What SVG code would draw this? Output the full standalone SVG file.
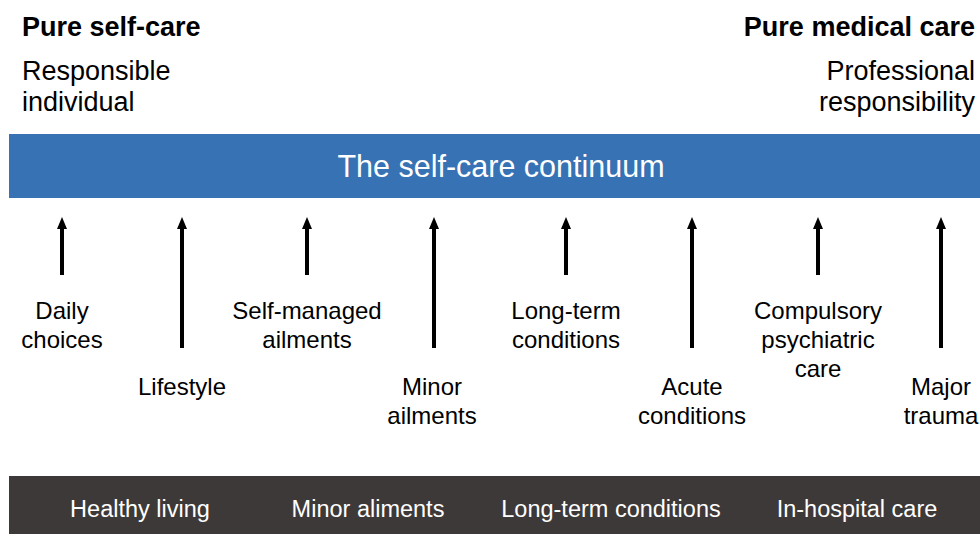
<svg xmlns="http://www.w3.org/2000/svg" width="980" height="534" viewBox="0 0 980 534">
<style>
text{font-family:"Liberation Sans",Arial,sans-serif;fill:#000}
.h{font-weight:bold;font-size:27px}
.s{font-size:27px}
.l{font-size:24px;text-anchor:middle}
.b{font-size:23.5px;text-anchor:middle;fill:#fff}
.w{fill:#fff}
.ar{stroke:#000;stroke-width:4;fill:none}
</style>
<defs>
<marker id="ah" viewBox="0 0 12 10" refX="0" refY="5" markerWidth="12" markerHeight="10" markerUnits="userSpaceOnUse" orient="auto">
<path d="M0,0 L12,5 L0,10 Z" fill="#000"/>
</marker>
</defs>
<rect width="980" height="534" fill="#fff"/>
<g id="header-left">
<text class="h" x="22" y="36">Pure self-care</text>
<text class="s" x="22" y="80">Responsible</text>
<text class="s" x="22" y="111">individual</text>
</g>
<g id="header-right">
<text class="h" x="975" y="36" text-anchor="end">Pure medical care</text>
<text class="s" x="975" y="80" text-anchor="end">Professional</text>
<text class="s" x="975" y="111" text-anchor="end">responsibility</text>
</g>
<g id="continuum">
<rect x="9" y="134" width="971" height="64" fill="#3672B4"/>
<text class="w" x="501" y="177" font-size="30.5" text-anchor="middle">The self-care continuum</text>
</g>
<g id="connectors">
<path class="ar" d="M62,275 V229" marker-end="url(#ah)"/>
<path class="ar" d="M182,348 V229" marker-end="url(#ah)"/>
<path class="ar" d="M307,275 V229" marker-end="url(#ah)"/>
<path class="ar" d="M434,348 V229" marker-end="url(#ah)"/>
<path class="ar" d="M566,275 V229" marker-end="url(#ah)"/>
<path class="ar" d="M692,348 V229" marker-end="url(#ah)"/>
<path class="ar" d="M818,275 V229" marker-end="url(#ah)"/>
<path class="ar" d="M941,348 V229" marker-end="url(#ah)"/>
</g>
<g id="n-daily"><text class="l" x="62" y="319">Daily</text><text class="l" x="62" y="348">choices</text></g>
<g id="n-lifestyle"><text class="l" x="182" y="395">Lifestyle</text></g>
<g id="n-selfmanaged"><text class="l" x="307" y="319">Self-managed</text><text class="l" x="307" y="348">ailments</text></g>
<g id="n-minor"><text class="l" x="432" y="395">Minor</text><text class="l" x="432" y="424">ailments</text></g>
<g id="n-longterm"><text class="l" x="566" y="319">Long-term</text><text class="l" x="566" y="348">conditions</text></g>
<g id="n-acute"><text class="l" x="692" y="395">Acute</text><text class="l" x="692" y="424">conditions</text></g>
<g id="n-compulsory"><text class="l" x="818" y="319">Compulsory</text><text class="l" x="818" y="348">psychiatric</text><text class="l" x="818" y="377">care</text></g>
<g id="n-major"><text class="l" x="941" y="395">Major</text><text class="l" x="941" y="424">trauma</text></g>
<g id="categories">
<rect x="9" y="476" width="971" height="58" fill="#3D3938"/>
<text class="b" x="140" y="517">Healthy living</text>
<text class="b" x="368" y="517">Minor aliments</text>
<text class="b" x="611" y="517">Long-term conditions</text>
<text class="b" x="857" y="517">In-hospital care</text>
</g>
</svg>
